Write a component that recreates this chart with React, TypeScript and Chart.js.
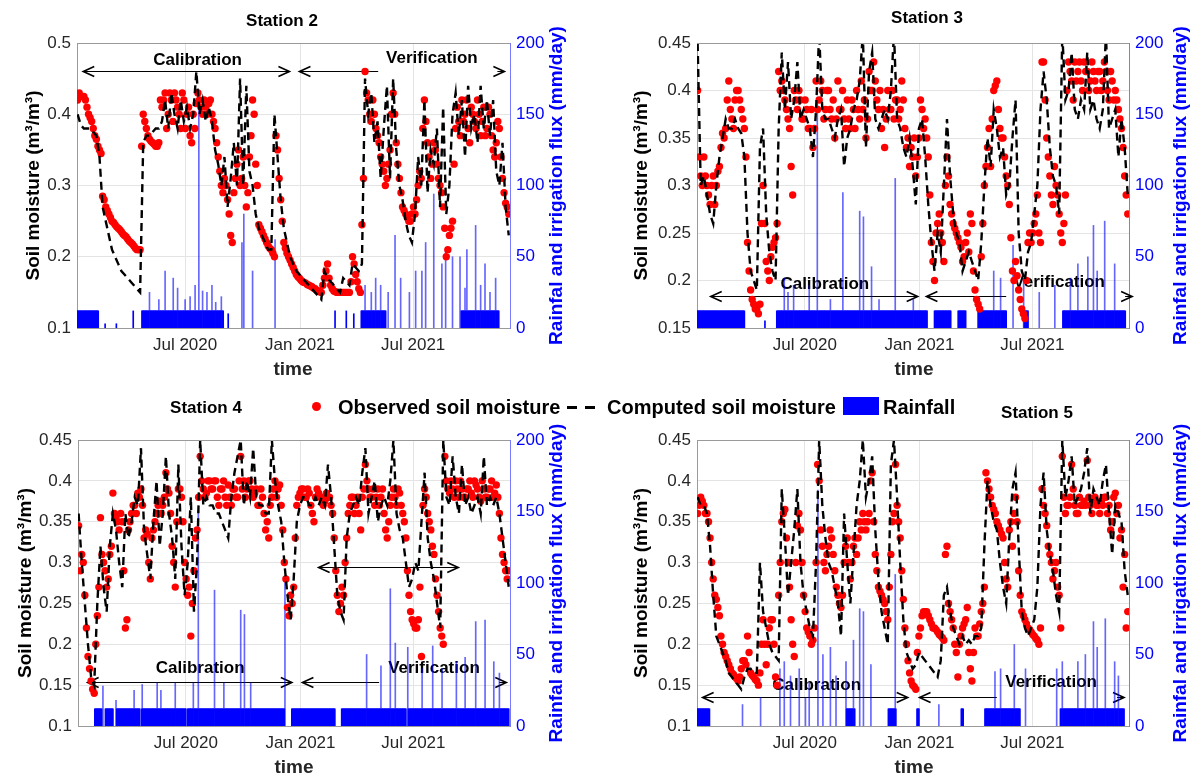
import React, { useEffect, useRef } from 'react';
import { Chart, registerables } from 'chart.js';
Chart.register(...registerables);

const FONT = '"Liberation Sans", Arial, Helvetica, sans-serif';

// ---------- shared axis data ----------
const X_MIN = 9; // days since 2020-01-01
const X_MAX = 702;
const xTickDays = [182, 366, 547];
const xTickLabels = ['Jul 2020', 'Jan 2021', 'Jul 2021'];
const rainTicks = [0, 50, 100, 150, 200];
const rainTickLabels = ['0', '50', '100', '150', '200'];
const smTicksS2 = [0.1, 0.2, 0.3, 0.4, 0.5];
const smTickLabelsS2 = ['0.1', '0.2', '0.3', '0.4', '0.5'];
const smTicks = [0.15, 0.2, 0.25, 0.3, 0.35, 0.4, 0.45];
const smTickLabels = ['0.15', '0.2', '0.25', '0.3', '0.35', '0.4', '0.45'];
const IRRIGATION = 12; // mm/day

const LEFT_LABEL = 'Soil moisture (m³/m³)';
const RIGHT_LABEL = 'Rainfal and irrigation flux (mm/day)';
const X_LABEL = 'time';

// sample days (days since 2020-01-01)
const days = [
  10, 15, 20, 25, 30, 35, 40, 45, 50, 55, 60, 65, 70, 75, 80, 85, 90, 95, 100, 105,
  110, 115, 120, 125, 130, 135, 140, 145, 150, 155, 160, 165, 170, 175, 180, 185, 190, 195, 200, 205,
  210, 215, 220, 225, 230, 235, 240, 245, 250, 255, 260, 265, 270, 275, 280, 285, 290, 295, 300, 305,
  310, 315, 320, 325, 330, 335, 340, 345, 350, 355, 360, 365, 370, 375, 380, 385, 390, 395, 400, 405,
  410, 415, 420, 425, 430, 435, 440, 445, 450, 455, 460, 465, 470, 475, 480, 485, 490, 495, 500, 505,
  510, 515, 520, 525, 530, 535, 540, 545, 550, 555, 560, 565, 570, 575, 580, 585, 590, 595, 600, 605,
  610, 615, 620, 625, 630, 635, 640, 645, 650, 655, 660, 665, 670, 675, 680, 685, 690, 695, 700,
];
// in-between observation days
const daysMid = [
  12.5, 17.5, 22.5, 27.5, 32.5, 37.5, 42.5, 47.5, 52.5, 57.5, 62.5, 67.5, 72.5, 77.5, 82.5, 87.5, 92.5, 97.5, 102.5, 107.5,
  112.5, 117.5, 122.5, 127.5, 132.5, 137.5, 142.5, 147.5, 152.5, 157.5, 162.5, 167.5, 172.5, 177.5, 182.5, 187.5, 192.5, 197.5, 202.5, 207.5,
  212.5, 217.5, 222.5, 227.5, 232.5, 237.5, 242.5, 247.5, 252.5, 257.5, 262.5, 267.5, 272.5, 277.5, 282.5, 287.5, 292.5, 297.5, 302.5, 307.5,
  312.5, 317.5, 322.5, 327.5, 332.5, 337.5, 342.5, 347.5, 352.5, 357.5, 362.5, 367.5, 372.5, 377.5, 382.5, 387.5, 392.5, 397.5, 402.5, 407.5,
  412.5, 417.5, 422.5, 427.5, 432.5, 437.5, 442.5, 447.5, 452.5, 457.5, 462.5, 467.5, 472.5, 477.5, 482.5, 487.5, 492.5, 497.5, 502.5, 507.5,
  512.5, 517.5, 522.5, 527.5, 532.5, 537.5, 542.5, 547.5, 552.5, 557.5, 562.5, 567.5, 572.5, 577.5, 582.5, 587.5, 592.5, 597.5, 602.5, 607.5,
  612.5, 617.5, 622.5, 627.5, 632.5, 637.5, 642.5, 647.5, 652.5, 657.5, 662.5, 667.5, 672.5, 677.5, 682.5, 687.5, 692.5, 697.5,
];

// ---------- Station 2 ----------
const s2Observed = [
  0.42, 0.425, 0.425, 0.41, 0.395, 0.38, 0.365, 0.35, 0.285, 0.27,
  0.26, 0.25, 0.245, 0.24, 0.235, 0.23, 0.225, 0.22, 0.215, 0.21,
  0.21, 0.40, 0.38, 0.365, 0.36, 0.355, 0.36, 0.41, 0.43, 0.40,
  0.42, 0.43, 0.41, 0.38, 0.42, 0.40, 0.37, 0.40, 0.415, 0.42,
  0.40, 0.41, 0.415, 0.40, 0.38, 0.34, 0.30, 0.31, 0.28, 0.23,
  0.29, 0.33, 0.30, 0.34, 0.27, 0.34, 0.42, 0.33, 0.245, 0.235,
  0.225, 0.215, 0.21, 0.20, 0.35, 0.28, 0.22, 0.205, 0.195, 0.185,
  0.175, 0.17, 0.165, 0.163, 0.16, 0.158, 0.155, 0.152, 0.15, 0.17,
  0.19, 0.16, 0.152, 0.15, 0.15, 0.15, 0.15, 0.15, 0.20, 0.175,
  0.155, 0.245, 0.46, 0.42, 0.39, 0.40, 0.37, 0.34, 0.32, 0.31,
  0.35, 0.43, 0.36, 0.31, 0.27, 0.26, 0.25, 0.26, 0.26, 0.30,
  0.31, 0.42, 0.36, 0.31, 0.36, 0.33, 0.30, 0.27, 0.20, 0.23,
  0.25, 0.38, 0.39, 0.42, 0.40, 0.38, 0.41, 0.39, 0.42, 0.37,
  0.41, 0.38, 0.40, 0.35, 0.36, 0.38, 0.31, 0.275, 0.26,
];
const s2ObservedMid = [
  0.43, 0.425, 0.42, 0.40, 0.39, 0.37, 0.355, 0.345, 0.28, 0.265,
  0.255, 0.248, 0.242, 0.238, 0.232, 0.228, 0.222, 0.218, 0.212, 0.21,
  0.355, 0.39, 0.37, 0.362, 0.358, 0.355, 0.42, 0.42, 0.38, 0.43,
  0.39, 0.42, 0.40, 0.43, 0.38, 0.41, 0.36, 0.38, 0.43, 0.41,
  0.42, 0.40, 0.42, 0.39, 0.36, 0.32, 0.29, 0.30, 0.26, 0.22,
  0.31, 0.35, 0.31, 0.30, 0.29, 0.37, 0.40, 0.30, 0.24, 0.23,
  0.22, 0.212, 0.205, 0.37, 0.31, 0.25, 0.212, 0.20, 0.19, 0.18,
  0.172, 0.167, 0.164, 0.161, 0.159, 0.156, 0.153, 0.151, 0.16, 0.18,
  0.17, 0.155, 0.151, 0.15, 0.15, 0.15, 0.15, 0.165, 0.19, 0.165,
  0.15, 0.31, 0.43, 0.40, 0.42, 0.38, 0.36, 0.33, 0.30, 0.33,
  0.40, 0.40, 0.33, 0.29, 0.265, 0.255, 0.25, 0.27, 0.28, 0.32,
  0.38, 0.39, 0.34, 0.33, 0.35, 0.31, 0.29, 0.24, 0.21, 0.24,
  0.33, 0.41, 0.37, 0.39, 0.42, 0.36, 0.40, 0.38, 0.40, 0.39,
  0.37, 0.41, 0.37, 0.34, 0.39, 0.34, 0.29, 0.27,
];
const s2Computed = [
  0.40, 0.385, 0.38, 0.38, 0.38, 0.375, 0.37, 0.34, 0.27, 0.25,
  0.23, 0.21, 0.20, 0.19, 0.18, 0.175, 0.17, 0.165, 0.16, 0.155,
  0.15, 0.36, 0.37, 0.37, 0.375, 0.38, 0.38, 0.39, 0.42, 0.38,
  0.43, 0.40, 0.38, 0.42, 0.39, 0.41, 0.38, 0.40, 0.46, 0.40,
  0.42, 0.39, 0.41, 0.39, 0.35, 0.33, 0.30, 0.34, 0.27, 0.31,
  0.36, 0.30, 0.45, 0.30, 0.44, 0.32, 0.30, 0.26, 0.24, 0.23,
  0.22, 0.21, 0.21, 0.40, 0.34, 0.28, 0.24, 0.22, 0.20, 0.19,
  0.18, 0.175, 0.17, 0.165, 0.16, 0.155, 0.15, 0.145, 0.14, 0.18,
  0.17, 0.165, 0.16, 0.155, 0.15, 0.17, 0.165, 0.16, 0.19, 0.185,
  0.18, 0.19, 0.45, 0.40, 0.43, 0.36, 0.39, 0.31, 0.38, 0.44,
  0.31, 0.45, 0.35, 0.30, 0.28, 0.25, 0.23, 0.22, 0.26, 0.34,
  0.30, 0.42, 0.29, 0.35, 0.33, 0.38, 0.27, 0.41, 0.26, 0.30,
  0.40, 0.43, 0.37, 0.42, 0.34, 0.44, 0.38, 0.40, 0.36, 0.44,
  0.38, 0.42, 0.37, 0.42, 0.32, 0.30, 0.36, 0.27, 0.23,
];
const s2IrrigationPeriods = [[9, 43], [113, 243], [464, 503], [624, 684]];
const s2RainEvents = [
  [54, 3], [72, 3], [99, 12], [125, 25], [140, 20], [150, 40], [163, 35], [170, 28], [182, 20], [190, 22],
  [198, 30], [204, 153], [210, 26], [217, 25], [225, 30], [231, 18], [240, 22], [251, 10], [273, 60], [276, 80],
  [290, 40], [326, 62], [422, 12], [440, 12], [452, 10], [470, 30], [480, 25], [487, 35], [495, 30], [507, 25],
  [518, 65], [527, 35], [541, 25], [551, 40], [561, 40], [567, 60], [580, 94], [593, 45], [599, 55], [610, 50],
  [622, 50], [630, 28], [633, 55], [647, 72], [655, 30], [662, 45], [670, 25], [679, 35],
];

// ---------- Station 3 ----------
const s3Observed = [
  0.40, 0.31, 0.33, 0.30, 0.28, 0.31, 0.30, 0.32, 0.355, 0.36,
  0.41, 0.37, 0.39, 0.40, 0.38, 0.36, 0.24, 0.19, 0.175, 0.17,
  0.175, 0.30, 0.22, 0.20, 0.235, 0.245, 0.42, 0.41, 0.39, 0.37,
  0.32, 0.40, 0.38, 0.39, 0.37, 0.38, 0.36, 0.34, 0.41, 0.39,
  0.40, 0.38, 0.40, 0.37, 0.35, 0.41, 0.38, 0.37, 0.39, 0.36,
  0.38, 0.40, 0.37, 0.38, 0.35, 0.42, 0.40, 0.41, 0.38, 0.36,
  0.34, 0.40, 0.38, 0.37, 0.39, 0.38, 0.39, 0.34, 0.32, 0.33,
  0.31, 0.35, 0.38, 0.37, 0.33, 0.24, 0.20, 0.26, 0.25, 0.22,
  0.33, 0.28, 0.26, 0.25, 0.24, 0.22, 0.24, 0.23, 0.26, 0.19,
  0.175, 0.225, 0.30, 0.34, 0.32, 0.40, 0.41, 0.36, 0.35, 0.31,
  0.28, 0.21, 0.22, 0.19, 0.17, 0.16, 0.24, 0.24, 0.26, 0.29,
  0.24, 0.43, 0.35, 0.31, 0.28, 0.30, 0.27, 0.24, 0.29, 0.43,
  0.41, 0.43, 0.42, 0.41, 0.43, 0.42, 0.41, 0.42, 0.40, 0.42,
  0.41, 0.42, 0.39, 0.41, 0.40, 0.38, 0.36, 0.31, 0.27,
];
const s3ObservedMid = [
  0.33, 0.30, 0.31, 0.29, 0.30, 0.28, 0.315, 0.34, 0.35, 0.39,
  0.38, 0.36, 0.40, 0.39, 0.37, 0.33, 0.21, 0.18, 0.17, 0.165,
  0.26, 0.26, 0.21, 0.225, 0.24, 0.26, 0.40, 0.40, 0.38, 0.36,
  0.29, 0.39, 0.40, 0.37, 0.39, 0.36, 0.38, 0.36, 0.38, 0.41,
  0.37, 0.40, 0.38, 0.39, 0.37, 0.38, 0.40, 0.36, 0.37, 0.39,
  0.36, 0.38, 0.41, 0.39, 0.37, 0.40, 0.43, 0.39, 0.40, 0.38,
  0.37, 0.38, 0.40, 0.39, 0.37, 0.41, 0.36, 0.35, 0.34, 0.35,
  0.33, 0.39, 0.36, 0.35, 0.29, 0.22, 0.25, 0.27, 0.24, 0.30,
  0.31, 0.27, 0.255, 0.245, 0.235, 0.225, 0.25, 0.27, 0.21, 0.18,
  0.17, 0.26, 0.32, 0.36, 0.37, 0.405, 0.38, 0.35, 0.33, 0.30,
  0.245, 0.20, 0.205, 0.18, 0.165, 0.20, 0.25, 0.25, 0.27, 0.25,
  0.43, 0.39, 0.33, 0.29, 0.32, 0.29, 0.25, 0.26, 0.40, 0.42,
  0.39, 0.41, 0.43, 0.40, 0.42, 0.40, 0.43, 0.41, 0.42, 0.40,
  0.43, 0.40, 0.42, 0.39, 0.39, 0.37, 0.34, 0.29,
];
const s3Computed = [
  0.45, 0.30, 0.31, 0.29, 0.27, 0.26, 0.30, 0.33, 0.35, 0.37,
  0.36, 0.36, 0.37, 0.36, 0.355, 0.33, 0.25, 0.21, 0.20, 0.19,
  0.34, 0.36, 0.27, 0.23, 0.21, 0.20, 0.36, 0.44, 0.38, 0.43,
  0.37, 0.39, 0.43, 0.37, 0.38, 0.37, 0.36, 0.33, 0.38, 0.46,
  0.38, 0.37, 0.37, 0.36, 0.35, 0.37, 0.38, 0.32, 0.35, 0.36,
  0.38, 0.39, 0.41, 0.46, 0.34, 0.42, 0.44, 0.37, 0.36, 0.37,
  0.38, 0.37, 0.40, 0.46, 0.37, 0.36, 0.34, 0.33, 0.35, 0.32,
  0.28, 0.36, 0.37, 0.33, 0.28, 0.24, 0.21, 0.25, 0.23, 0.30,
  0.37, 0.31, 0.27, 0.25, 0.24, 0.21, 0.22, 0.23, 0.22, 0.21,
  0.20, 0.24, 0.30, 0.35, 0.32, 0.38, 0.36, 0.33, 0.34, 0.29,
  0.30, 0.35, 0.39, 0.25, 0.21, 0.20, 0.23, 0.24, 0.27, 0.30,
  0.38, 0.42, 0.39, 0.34, 0.31, 0.30, 0.27, 0.46, 0.39, 0.40,
  0.44, 0.38, 0.37, 0.39, 0.38, 0.44, 0.38, 0.39, 0.37, 0.36,
  0.38, 0.46, 0.36, 0.37, 0.38, 0.33, 0.37, 0.34, 0.29,
];
const s3IrrigationPeriods = [[9, 85], [137, 378], [390, 416], [428, 440], [460, 505], [533, 540], [596, 696]];
const s3RainEvents = [
  [118, 5], [149, 35], [155, 25], [164, 30], [189, 30], [202, 162], [223, 20], [243, 95], [270, 82], [276, 78],
  [289, 43], [301, 20], [327, 105], [356, 20], [485, 40], [496, 35], [516, 58], [533, 35], [558, 25], [583, 30],
  [608, 35], [620, 45], [636, 50], [645, 72], [651, 40], [663, 75], [679, 45],
];

// ---------- Station 4 ----------
const s4Observed = [
  0.345, 0.31, 0.26, 0.185, 0.155, 0.14, 0.235, 0.355, 0.30, 0.27,
  0.31, 0.385, 0.355, 0.34, 0.35, 0.22, 0.34, 0.36, 0.37, 0.385,
  0.39, 0.33, 0.335, 0.28, 0.34, 0.36, 0.375, 0.37, 0.41, 0.385,
  0.32, 0.27, 0.39, 0.38, 0.30, 0.26, 0.21, 0.29, 0.34, 0.43,
  0.39, 0.385, 0.40, 0.39, 0.40, 0.37, 0.39, 0.38, 0.395, 0.37,
  0.39, 0.38, 0.43, 0.40, 0.39, 0.40, 0.38, 0.39, 0.37, 0.38,
  0.34, 0.33, 0.38, 0.40, 0.39, 0.37, 0.30, 0.245, 0.26, 0.27,
  0.37, 0.385, 0.39, 0.38, 0.385, 0.36, 0.38, 0.385, 0.38, 0.375,
  0.38, 0.37, 0.33, 0.26, 0.25, 0.26, 0.33, 0.37, 0.38, 0.37,
  0.36, 0.38, 0.42, 0.39, 0.38, 0.37, 0.39, 0.38, 0.36, 0.33,
  0.37, 0.39, 0.37, 0.385, 0.36, 0.33, 0.26, 0.23, 0.22, 0.23,
  0.185, 0.39, 0.36, 0.34, 0.31, 0.26, 0.22, 0.20, 0.40, 0.385,
  0.39, 0.40, 0.38, 0.39, 0.38, 0.39, 0.385, 0.40, 0.39, 0.375,
  0.39, 0.38, 0.39, 0.38, 0.395, 0.36, 0.31, 0.29, 0.29,
];
const s4ObservedMid = [
  0.29, 0.30, 0.22, 0.17, 0.145, 0.20, 0.27, 0.31, 0.29, 0.28,
  0.32, 0.36, 0.35, 0.36, 0.29, 0.23, 0.35, 0.37, 0.36, 0.38,
  0.37, 0.34, 0.30, 0.33, 0.35, 0.37, 0.36, 0.38, 0.39, 0.36,
  0.30, 0.35, 0.39, 0.35, 0.28, 0.27, 0.25, 0.33, 0.38, 0.40,
  0.38, 0.40, 0.39, 0.40, 0.38, 0.39, 0.40, 0.37, 0.38, 0.39,
  0.38, 0.40, 0.39, 0.38, 0.40, 0.39, 0.385, 0.37, 0.39, 0.36,
  0.35, 0.37, 0.39, 0.38, 0.395, 0.34, 0.28, 0.235, 0.25, 0.33,
  0.38, 0.39, 0.38, 0.39, 0.37, 0.35, 0.39, 0.38, 0.37, 0.385,
  0.38, 0.36, 0.29, 0.24, 0.27, 0.30, 0.36, 0.38, 0.36, 0.38,
  0.34, 0.39, 0.40, 0.38, 0.39, 0.38, 0.37, 0.39, 0.34, 0.35,
  0.38, 0.38, 0.39, 0.37, 0.35, 0.29, 0.24, 0.225, 0.22, 0.27,
  0.37, 0.38, 0.35, 0.32, 0.28, 0.24, 0.21, 0.43, 0.39, 0.40,
  0.38, 0.39, 0.40, 0.38, 0.39, 0.40, 0.38, 0.395, 0.38, 0.40,
  0.38, 0.39, 0.40, 0.385, 0.38, 0.33, 0.30, 0.28,
];
const s4Computed = [
  0.36, 0.30, 0.25, 0.20, 0.16, 0.15, 0.25, 0.32, 0.27, 0.24,
  0.32, 0.36, 0.34, 0.30, 0.27, 0.36, 0.33, 0.35, 0.38, 0.37,
  0.44, 0.34, 0.31, 0.28, 0.35, 0.40, 0.32, 0.36, 0.43, 0.36,
  0.33, 0.28, 0.42, 0.32, 0.26, 0.30, 0.38, 0.24, 0.30, 0.45,
  0.37, 0.38, 0.37, 0.37, 0.36, 0.36, 0.35, 0.34, 0.33, 0.38,
  0.41, 0.43, 0.45, 0.37, 0.40, 0.38, 0.44, 0.38, 0.37, 0.37,
  0.36, 0.36, 0.45, 0.40, 0.37, 0.35, 0.30, 0.26, 0.23, 0.28,
  0.35, 0.37, 0.38, 0.38, 0.37, 0.37, 0.38, 0.37, 0.38, 0.37,
  0.42, 0.38, 0.32, 0.26, 0.24, 0.23, 0.33, 0.36, 0.37, 0.38,
  0.37, 0.41, 0.44, 0.36, 0.38, 0.40, 0.35, 0.37, 0.38, 0.37,
  0.40, 0.45, 0.36, 0.34, 0.33, 0.30, 0.27, 0.28, 0.30, 0.29,
  0.35, 0.41, 0.33, 0.30, 0.28, 0.25, 0.22, 0.45, 0.38, 0.37,
  0.43, 0.38, 0.36, 0.42, 0.37, 0.38, 0.36, 0.37, 0.38, 0.36,
  0.43, 0.37, 0.38, 0.37, 0.38, 0.36, 0.33, 0.30, 0.27,
];
const s4IrrigationPeriods = [[36, 47], [53, 65], [70, 108], [111, 182], [185, 340], [352, 421], [432, 535], [538, 700]];
const s4RainEvents = [
  [49, 28], [70, 18], [99, 25], [112, 29], [136, 30], [142, 25], [165, 30], [194, 30], [202, 151], [228, 95],
  [243, 30], [270, 81], [276, 78], [286, 30], [341, 105], [472, 50], [495, 42], [510, 96], [518, 58], [538, 55],
  [561, 40], [578, 56], [593, 40], [616, 45], [630, 48], [647, 73], [662, 74], [676, 45], [685, 37],
];

// ---------- Station 5 ----------
const s5Observed = [
  0.36, 0.38, 0.37, 0.36, 0.33, 0.28, 0.255, 0.235, 0.20, 0.185,
  0.175, 0.165, 0.16, 0.155, 0.17, 0.18, 0.21, 0.165, 0.16, 0.155,
  0.165, 0.23, 0.175, 0.22, 0.23, 0.16, 0.26, 0.35, 0.365, 0.30,
  0.23, 0.185, 0.345, 0.34, 0.26, 0.22, 0.21, 0.205, 0.30, 0.40,
  0.32, 0.29, 0.32, 0.33, 0.29, 0.26, 0.245, 0.30, 0.33, 0.28,
  0.32, 0.31, 0.35, 0.36, 0.34, 0.36, 0.41, 0.31, 0.27, 0.26,
  0.25, 0.23, 0.31, 0.36, 0.37, 0.33, 0.255, 0.20, 0.165, 0.15,
  0.145, 0.21, 0.235, 0.24, 0.235, 0.225, 0.22, 0.215, 0.21, 0.205,
  0.32, 0.24, 0.22, 0.19, 0.20, 0.22, 0.23, 0.19, 0.155, 0.22,
  0.21, 0.24, 0.27, 0.40, 0.38, 0.365, 0.35, 0.34, 0.33, 0.28,
  0.34, 0.32, 0.38, 0.29, 0.24, 0.23, 0.22, 0.215, 0.21, 0.205,
  0.22, 0.37, 0.345, 0.31, 0.28, 0.30, 0.26, 0.43, 0.36, 0.37,
  0.42, 0.37, 0.36, 0.37, 0.375, 0.425, 0.37, 0.375, 0.37, 0.36,
  0.37, 0.38, 0.37, 0.35, 0.385, 0.37, 0.34, 0.31, 0.24,
];
const s5ObservedMid = [
  0.37, 0.375, 0.36, 0.35, 0.30, 0.26, 0.245, 0.21, 0.19, 0.18,
  0.17, 0.163, 0.158, 0.16, 0.18, 0.175, 0.19, 0.162, 0.157, 0.15,
  0.20, 0.20, 0.20, 0.23, 0.20, 0.15, 0.30, 0.36, 0.33, 0.27,
  0.20, 0.30, 0.36, 0.30, 0.24, 0.215, 0.20, 0.22, 0.42, 0.34,
  0.30, 0.31, 0.34, 0.31, 0.27, 0.25, 0.26, 0.32, 0.30, 0.30,
  0.33, 0.33, 0.34, 0.35, 0.35, 0.40, 0.35, 0.29, 0.265, 0.255,
  0.24, 0.27, 0.35, 0.42, 0.35, 0.29, 0.22, 0.18, 0.155, 0.148,
  0.19, 0.22, 0.24, 0.24, 0.23, 0.22, 0.218, 0.212, 0.208, 0.31,
  0.25, 0.23, 0.20, 0.16, 0.21, 0.225, 0.245, 0.17, 0.19, 0.21,
  0.225, 0.25, 0.41, 0.39, 0.37, 0.36, 0.345, 0.335, 0.30, 0.27,
  0.35, 0.36, 0.35, 0.26, 0.235, 0.225, 0.218, 0.212, 0.207, 0.20,
  0.39, 0.36, 0.32, 0.30, 0.29, 0.27, 0.22, 0.38, 0.37, 0.38,
  0.39, 0.36, 0.38, 0.37, 0.37, 0.38, 0.36, 0.38, 0.37, 0.375,
  0.38, 0.36, 0.34, 0.38, 0.36, 0.33, 0.27, 0.22,
];
const s5Computed = [
  0.38, 0.37, 0.37, 0.36, 0.32, 0.26, 0.21, 0.20, 0.19, 0.18,
  0.165, 0.16, 0.155, 0.15, 0.145, 0.16, 0.17, 0.17, 0.165, 0.165,
  0.30, 0.24, 0.22, 0.20, 0.19, 0.185, 0.18, 0.39, 0.33, 0.26,
  0.30, 0.34, 0.39, 0.30, 0.26, 0.24, 0.22, 0.21, 0.30, 0.45,
  0.37, 0.33, 0.30, 0.29, 0.27, 0.25, 0.21, 0.36, 0.30, 0.25,
  0.31, 0.37, 0.40, 0.45, 0.38, 0.40, 0.43, 0.34, 0.28, 0.24,
  0.22, 0.20, 0.42, 0.45, 0.38, 0.30, 0.23, 0.19, 0.18, 0.17,
  0.175, 0.19, 0.185, 0.18, 0.175, 0.17, 0.165, 0.16, 0.18, 0.26,
  0.27, 0.24, 0.22, 0.21, 0.20, 0.21, 0.20, 0.205, 0.20, 0.21,
  0.21, 0.22, 0.32, 0.40, 0.37, 0.35, 0.34, 0.30, 0.27, 0.25,
  0.33, 0.39, 0.41, 0.32, 0.24, 0.22, 0.21, 0.22, 0.23, 0.27,
  0.37, 0.41, 0.34, 0.31, 0.29, 0.26, 0.24, 0.45, 0.38, 0.40,
  0.43, 0.37, 0.38, 0.39, 0.41, 0.44, 0.36, 0.39, 0.38, 0.37,
  0.40, 0.42, 0.36, 0.31, 0.37, 0.36, 0.35, 0.29, 0.26,
];
const s5IrrigationPeriods = [[9, 29], [248, 262], [316, 328], [362, 365], [433, 436], [471, 527], [592, 694]];
const s5RainEvents = [
  [82, 15], [111, 20], [142, 40], [149, 45], [159, 35], [173, 40], [183, 20], [189, 30], [203, 165], [211, 50],
  [223, 55], [232, 35], [248, 45], [260, 60], [270, 82], [276, 80], [288, 43], [327, 106], [397, 15], [487, 38],
  [496, 40], [518, 57], [536, 40], [586, 40], [595, 45], [620, 45], [632, 50], [645, 73], [651, 55], [664, 75],
  [679, 45], [685, 35],
];

// ---------- helpers ----------
function buildRain(periods: number[][], events: number[][]) {
  const m = new Map<number, number>();
  for (const [a, b] of periods) for (let d = a; d <= b; d++) m.set(d, IRRIGATION);
  for (const [d, v] of events) m.set(d, Math.max(v, m.get(d) ?? 0));
  return [...m.entries()].sort((p, q) => p[0] - q[0]).map(([x, y]) => ({ x, y }));
}

type Arrow = { from: number; to: number; y: number; lineTo?: number; label?: string; lx?: number; ly?: number };
type PanelCfg = {
  key: string;
  title: string;
  obs: number[];
  obsMid: number[];
  comp: number[];
  periods: number[][];
  events: number[][];
  yMin: number;
  yMax: number;
  yTicks: number[];
  yLabels: string[];
  box: { x: number; y: number; w: number; h: number };
  area: { l: number; t: number; r: number; b: number };
  titlePos: { x: number; y: number };
  leftLabelX: number;
  rightLabelX: number;
  timePos: { x: number; y: number };
  arrows: Arrow[];
};

const panels: PanelCfg[] = [
  {
    key: 's2', title: 'Station 2', obs: s2Observed, obsMid: s2ObservedMid, comp: s2Computed, periods: s2IrrigationPeriods, events: s2RainEvents,
    yMin: 0.1, yMax: 0.5, yTicks: smTicksS2, yLabels: smTickLabelsS2,
    box: { x: 0, y: 0, w: 602, h: 390 }, area: { l: 77, t: 43, r: 510, b: 328 },
    titlePos: { x: 282, y: 21 }, leftLabelX: 34, rightLabelX: 557, timePos: { x: 293, y: 370 },
    arrows: [
      { from: 19, to: 349, y: 0.4607, label: 'Calibration', lx: 202, ly: 0.476 },
      { from: 365, to: 693, lineTo: 491, y: 0.4607, label: 'Verification', lx: 577, ly: 0.479 },
    ],
  },
  {
    key: 's3', title: 'Station 3', obs: s3Observed, obsMid: s3ObservedMid, comp: s3Computed, periods: s3IrrigationPeriods, events: s3RainEvents,
    yMin: 0.15, yMax: 0.45, yTicks: smTicks, yLabels: smTickLabels,
    box: { x: 602, y: 0, w: 602, h: 390 }, area: { l: 697, t: 43, r: 1129, b: 328 },
    titlePos: { x: 927, y: 18 }, leftLabelX: 642, rightLabelX: 1181, timePos: { x: 914, y: 370 },
    arrows: [
      { from: 31, to: 363, y: 0.1837, label: 'Calibration', lx: 214, ly: 0.1963 },
      { from: 377, to: 707, lineTo: 505, y: 0.1837, label: 'Verification', lx: 590, ly: 0.198 },
    ],
  },
  {
    key: 's4', title: 'Station 4', obs: s4Observed, obsMid: s4ObservedMid, comp: s4Computed, periods: s4IrrigationPeriods, events: s4RainEvents,
    yMin: 0.1, yMax: 0.45, yTicks: [0.1, ...smTicks], yLabels: ['0.1', ...smTickLabels],
    box: { x: 0, y: 390, w: 602, h: 389 }, area: { l: 78, t: 440, r: 510, b: 726 },
    titlePos: { x: 206, y: 408 }, leftLabelX: 26, rightLabelX: 557, timePos: { x: 294, y: 768 },
    arrows: [
      { from: 24.5, to: 352, y: 0.154, label: 'Calibration', lx: 205, ly: 0.17 },
      { from: 369, to: 696, lineTo: 492, y: 0.154, label: 'Verification', lx: 580, ly: 0.171 },
      { from: 395, to: 619, y: 0.295 },
    ],
  },
  {
    key: 's5', title: 'Station 5', obs: s5Observed, obsMid: s5ObservedMid, comp: s5Computed, periods: s5IrrigationPeriods, events: s5RainEvents,
    yMin: 0.1, yMax: 0.45, yTicks: [0.1, ...smTicks], yLabels: ['0.1', ...smTickLabels],
    box: { x: 602, y: 390, w: 602, h: 389 }, area: { l: 697, t: 440, r: 1129, b: 726 },
    titlePos: { x: 1037, y: 413 }, leftLabelX: 642, rightLabelX: 1181, timePos: { x: 914, y: 768 },
    arrows: [
      { from: 18, to: 347, y: 0.1355, label: 'Calibration', lx: 201, ly: 0.15 },
      { from: 366, to: 694, lineTo: 490, y: 0.1355, label: 'Verification', lx: 577, ly: 0.153 },
    ],
  },
];

const WL = 50;
const WR = 40;
const HX = 30;
const BOX_COLOR = '#9a9a9a';
const GRID_COLOR = '#e4e4e4';
const TICK_COLOR = '#262626';
const BLUE = '#0000ff';
const RAIN_SPIKE = 'rgba(0,0,255,0.6)';

function head(ctx: CanvasRenderingContext2D, x: number, y: number, dir: number) {
  ctx.beginPath();
  ctx.moveTo(x - dir * 11, y - 5);
  ctx.lineTo(x, y);
  ctx.lineTo(x - dir * 11, y + 5);
  ctx.stroke();
}

function makeConfig(p: PanelCfg): any {
  const ox = p.box.x, oy = p.box.y;
  const l = p.area.l - ox, t = p.area.t - oy, r = p.area.r - ox, b = p.area.b - oy;
  const annot = {
    id: 'annot' + p.key,
    beforeDatasetsDraw(chart: any) {
      const ctx = chart.ctx as CanvasRenderingContext2D;
      const xs = chart.scales.x, ys = chart.scales.y;
      ctx.save();
      ctx.strokeStyle = '#000';
      ctx.fillStyle = '#000';
      ctx.lineWidth = 1.2;
      for (const a of p.arrows) {
        const x1 = xs.getPixelForValue(a.from);
        const x2 = xs.getPixelForValue(a.to);
        const y = Math.round(ys.getPixelForValue(a.y)) + 0.5;
        const xe = a.lineTo !== undefined ? xs.getPixelForValue(a.lineTo) : x2;
        ctx.beginPath();
        ctx.moveTo(x1, y);
        ctx.lineTo(xe, y);
        if (a.lineTo !== undefined) {
          ctx.moveTo(x2 - 7, y);
          ctx.lineTo(x2, y);
        }
        ctx.stroke();
        ctx.lineWidth = 1.6;
        head(ctx, x1, y, -1);
        head(ctx, x2, y, 1);
        ctx.lineWidth = 1.2;
        if (a.label) {
          ctx.font = `bold 17px ${FONT}`;
          ctx.textAlign = 'center';
          ctx.textBaseline = 'middle';
          ctx.fillText(a.label, xs.getPixelForValue(a.lx), ys.getPixelForValue(a.ly));
        }
      }
      ctx.restore();
    },
    afterDraw(chart: any) {
      const ctx = chart.ctx as CanvasRenderingContext2D;
      const ca = chart.chartArea;
      ctx.save();
      ctx.strokeStyle = BOX_COLOR;
      ctx.lineWidth = 1;
      ctx.beginPath();
      ctx.moveTo(ca.left, ca.top + 0.5);
      ctx.lineTo(ca.right, ca.top + 0.5);
      ctx.stroke();
      ctx.textAlign = 'center';
      ctx.textBaseline = 'middle';
      ctx.fillStyle = '#000';
      ctx.font = `bold 17px ${FONT}`;
      ctx.fillText(p.title, p.titlePos.x - ox, p.titlePos.y - oy);
      ctx.fillStyle = TICK_COLOR;
      ctx.font = `bold 19px ${FONT}`;
      ctx.fillText(X_LABEL, p.timePos.x - ox, p.timePos.y - oy);
      const cy = (ca.top + ca.bottom) / 2;
      ctx.save();
      ctx.translate(p.leftLabelX - ox, cy);
      ctx.rotate(-Math.PI / 2);
      ctx.fillStyle = '#000';
      ctx.font = `bold 19px ${FONT}`;
      ctx.fillText(LEFT_LABEL, 0, 0);
      ctx.restore();
      ctx.save();
      ctx.translate(p.rightLabelX - ox, cy);
      ctx.rotate(-Math.PI / 2);
      ctx.fillStyle = BLUE;
      ctx.font = `bold 19px ${FONT}`;
      ctx.fillText(RIGHT_LABEL, 0, 0);
      ctx.restore();
      ctx.restore();
    },
  };

  const observedPoints = [
    ...days.map((d, i) => ({ x: d, y: p.obs[i] })),
    ...daysMid.map((d, i) => ({ x: d, y: p.obsMid[i] })),
  ].sort((a, c) => a.x - c.x);

  return {
    type: 'line',
    data: {
      datasets: [
        {
          type: 'line',
          label: 'Computed soil moisture',
          data: days.map((d, i) => ({ x: d, y: p.comp[i] })),
          borderColor: '#000',
          borderWidth: 2.4,
          borderDash: [8, 5],
          pointRadius: 0,
          fill: false,
          tension: 0,
          yAxisID: 'y',
          order: 0,
        },
        {
          type: 'line',
          label: 'Observed soil moisture',
          data: observedPoints,
          showLine: false,
          pointRadius: 3.7,
          pointBackgroundColor: '#ff0000',
          pointBorderColor: '#ff0000',
          pointBorderWidth: 0,
          yAxisID: 'y',
          order: 1,
        },
        {
          type: 'bar',
          label: 'Rainfall',
          data: buildRain(p.periods, p.events),
          backgroundColor: (c: any) => (c.raw && c.raw.y > IRRIGATION ? RAIN_SPIKE : BLUE),
          borderWidth: 0,
          barThickness: 1,
          yAxisID: 'yR',
          order: 2,
        },
      ],
    },
    options: {
      animation: false,
      responsive: false,
      maintainAspectRatio: false,
      events: [],
      layout: { padding: { left: l - WL, right: p.box.w - r - WR, top: t, bottom: p.box.h - b - HX } },
      plugins: { legend: { display: false }, tooltip: { enabled: false }, title: { display: false } },
      scales: {
        x: {
          type: 'linear',
          min: X_MIN,
          max: X_MAX,
          offset: false,
          afterBuildTicks: (s: any) => { s.ticks = xTickDays.map((v) => ({ value: v })); },
          afterFit: (s: any) => { s.height = HX; },
          ticks: {
            autoSkip: false,
            maxRotation: 0,
            padding: 7,
            color: TICK_COLOR,
            font: { family: FONT, size: 17 },
            callback: (v: number) => xTickLabels[xTickDays.indexOf(v)] ?? '',
          },
          grid: { color: GRID_COLOR, drawTicks: false, offset: false },
          border: { color: BOX_COLOR, width: 1 },
        },
        y: {
          type: 'linear',
          position: 'left',
          min: p.yMin,
          max: p.yMax,
          afterBuildTicks: (s: any) => { s.ticks = p.yTicks.map((v) => ({ value: v })); },
          afterFit: (s: any) => { s.width = WL; },
          ticks: {
            padding: 6,
            color: TICK_COLOR,
            font: { family: FONT, size: 17 },
            callback: (v: number) => p.yLabels[p.yTicks.indexOf(v)] ?? '',
          },
          grid: { color: GRID_COLOR, drawTicks: false },
          border: { color: BOX_COLOR, width: 1 },
        },
        yR: {
          type: 'linear',
          position: 'right',
          min: 0,
          max: 200,
          afterBuildTicks: (s: any) => { s.ticks = rainTicks.map((v) => ({ value: v })); },
          afterFit: (s: any) => { s.width = WR; },
          ticks: {
            padding: 6,
            color: BLUE,
            font: { family: FONT, size: 17 },
            callback: (v: number) => rainTickLabels[rainTicks.indexOf(v)] ?? '',
          },
          grid: { display: false, drawTicks: false },
          border: { color: '#7a7aff', width: 1 },
        },
      },
    },
    plugins: [annot],
  };
}

function Panel({ cfg }: { cfg: PanelCfg }) {
  const ref = useRef<HTMLCanvasElement>(null);
  useEffect(() => {
    if (!ref.current) return;
    const chart = new Chart(ref.current, makeConfig(cfg));
    return () => chart.destroy();
  }, [cfg]);
  return (
    <canvas
      ref={ref}
      width={cfg.box.w}
      height={cfg.box.h}
      style={{ position: 'absolute', left: cfg.box.x, top: cfg.box.y, width: cfg.box.w, height: cfg.box.h }}
    />
  );
}

const legendText: React.CSSProperties = {
  position: 'absolute',
  top: 395,
  lineHeight: '24px',
  fontFamily: FONT,
  fontWeight: 'bold',
  fontSize: 20,
  color: '#000',
  whiteSpace: 'nowrap',
};

function Legend() {
  return (
    <div>
      <span style={{ position: 'absolute', left: 312, top: 402, width: 9, height: 9, borderRadius: 5, background: '#ff0000' }} />
      <span style={{ ...legendText, left: 338 }}>Observed soil moisture</span>
      <span style={{ position: 'absolute', left: 567, top: 406, width: 10, height: 3, background: '#000' }} />
      <span style={{ position: 'absolute', left: 585, top: 406, width: 10, height: 3, background: '#000' }} />
      <span style={{ ...legendText, left: 607 }}>Computed soil moisture</span>
      <span style={{ position: 'absolute', left: 843, top: 397, width: 36, height: 18, background: BLUE }} />
      <span style={{ ...legendText, left: 883 }}>Rainfall</span>
    </div>
  );
}

export default function App() {
  return (
    <div style={{ position: 'absolute', left: 0, top: 0, width: 1204, height: 779, background: '#fff', overflow: 'hidden' }}>
      {panels.map((p) => (
        <Panel key={p.key} cfg={p} />
      ))}
      <Legend />
    </div>
  );
}
